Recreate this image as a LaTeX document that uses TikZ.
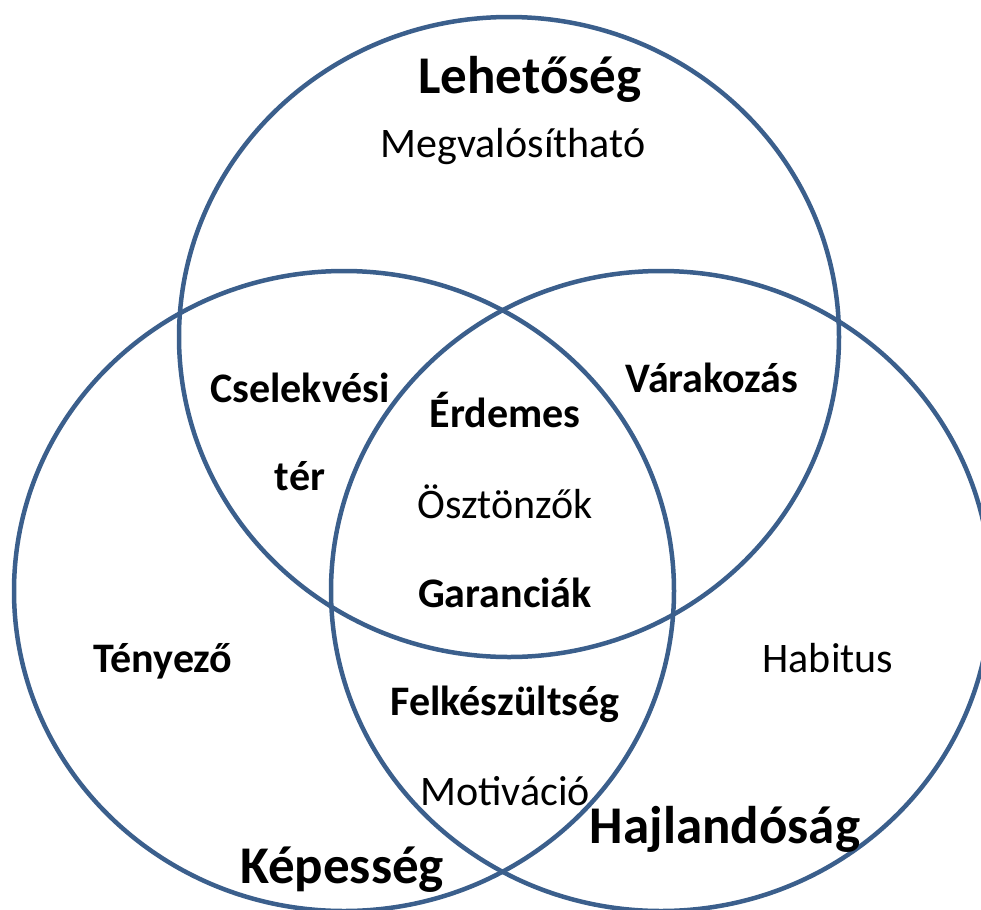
\documentclass[tikz,border=0pt]{standalone}
\usepackage{fontspec}
\setmainfont{Carlito}
\definecolor{setline}{HTML}{3B5F8C}

\begin{document}
\begin{tikzpicture}[
        x = 0.025cm, y = -0.025cm,
        setring/.style = {draw = setline, line width = 3.2pt},
        setname/.style = {anchor = base, font = \fontsize{37.7}{44}\selectfont\bfseries},
        boldtext/.style = {anchor = base, font = \fontsize{29.9}{36}\selectfont\bfseries},
        plaintext/.style = {anchor = base, font = \fontsize{29.9}{36}\selectfont}
    ]
        \useasboundingbox (0,0) rectangle (981,909);
        \clip (0,0) rectangle (981,909);

        % the three sets
        \draw[setring] (509,337) ellipse [x radius = 330, y radius = 320];
        \draw[setring] (344,591) ellipse [x radius = 330, y radius = 320];
        \draw[setring] (661,591) ellipse [x radius = 330, y radius = 320];

        % names of the sets
        \node[setname] (lehet) at (530,93) {Lehetőség};
        \node[setname] (kepes) at (342,883) {Képesség};
        \node[setname] (hajl) at (725,843) {Hajlandóság};

        % regions
        \node[plaintext] (megval) at (513,157) {Megvalósítható};
        \node[boldtext] (cselek) at (300,402) {Cselekvési};
        \node[boldtext] (ter) at (300,490) {tér};
        \node[boldtext] (varak) at (712,392) {Várakozás};
        \node[boldtext] (erdem) at (505,427) {Érdemes};
        \node[plaintext] (oszton) at (505,518) {Ösztönzők};
        \node[boldtext] (garan) at (505,607) {Garanciák};
        \node[boldtext] (tenyez) at (163,672) {Tényező};
        \node[plaintext] (habit) at (828,672) {Habitus};
        \node[boldtext] (felk) at (505,715) {Felkészültség};
        \node[plaintext] (motiv) at (505,805) {Motiváció};
    \end{tikzpicture}
\end{document}
